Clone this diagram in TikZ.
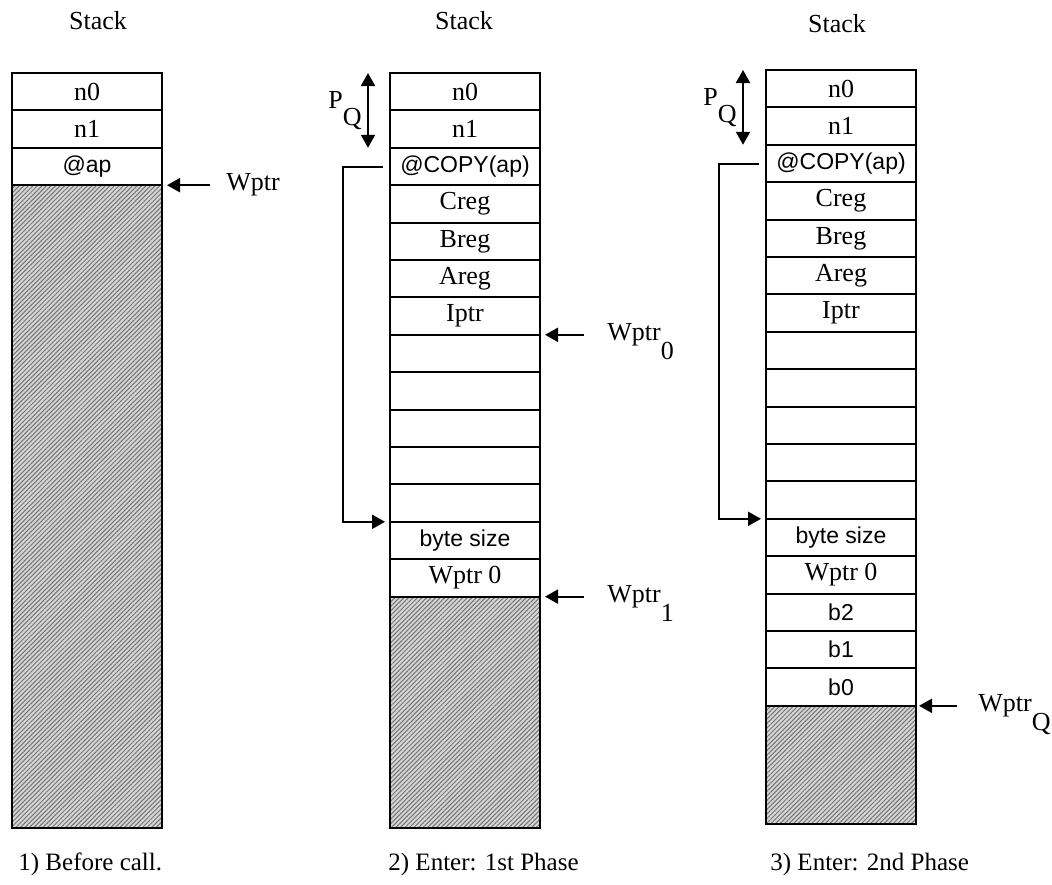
\documentclass[tikz,border=0pt]{standalone}
\usepackage{fontspec}
\setmainfont{Liberation Serif}
\setsansfont{Liberation Sans}
\usetikzlibrary{arrows.meta, positioning, patterns.meta}
\tikzset{
  cell/.style = {rectangle, draw, line width=1pt, minimum width=75pt,
    minimum height=18.7pt, inner sep=0pt, outer sep=0pt, font=\fontsize{13}{15}\selectfont},
  scell/.style = {cell, font=\sffamily\fontsize{11.5}{14}\selectfont},
  freecell/.style = {cell, preaction={fill=black!16},
    pattern={Lines[angle=45, distance=1.6pt, line width=0.5pt]}, pattern color=black!55},
  lbl/.style = {inner sep=0pt, font=\fontsize{13}{15}\selectfont},
  caption/.style = {inner sep=0pt, anchor=base west, font=\fontsize{12.5}{15}\selectfont},
  ptr/.style = {line width=1pt, -{Triangle[length=6.5pt,width=7pt]}},
  dptr/.style = {line width=1pt, {Triangle[length=6.5pt,width=7pt]}-{Triangle[length=6.5pt,width=7pt]}},
}

\begin{document}
\begin{tikzpicture}[x=0.5pt, y=-0.5pt]
  \useasboundingbox (0,0) rectangle (1052,884);

  % 1) Before call
  \node[lbl] (t1) at (98,21) {Stack};
  \node[cell, anchor=north] (a0) at (87,73) {n0};
  \node[cell, below=0pt of a0] (a1) {n1};
  \node[scell, below=0pt of a1] (a2) {@ap};
  \node[freecell, below=0pt of a2, minimum height=321.4pt] (a3) {};
  \node[lbl, right=32pt of a2.south east] (wp1) {Wptr};
  \draw[ptr, shorten <=8pt, shorten >=2.5pt] (wp1.west) -- (a2.south east);
  \node[caption] (cap1) at ([xshift=3pt, yshift=-21pt]a3.south west) {1) Before call.};

  % 2) Enter: 1st Phase
  \node[lbl] (t2) at (464,21) {Stack};
  \node[cell, anchor=north] (b0) at (465,73) {n0};
  \node[cell, below=0pt of b0] (b1) {n1};
  \node[scell, below=0pt of b1] (b2) {@COPY(ap)};
  \node[cell, below=0pt of b2] (b3) {Creg};
  \node[cell, below=0pt of b3] (b4) {Breg};
  \node[cell, below=0pt of b4] (b5) {Areg};
  \node[cell, below=0pt of b5] (b6) {Iptr};
  \node[cell, below=0pt of b6] (b7) {};
  \node[cell, below=0pt of b7] (b8) {};
  \node[cell, below=0pt of b8] (b9) {};
  \node[cell, below=0pt of b9] (b10) {};
  \node[cell, below=0pt of b10] (b11) {};
  \node[scell, below=0pt of b11] (b12) {byte size};
  \node[cell, below=0pt of b12] (b13) {Wptr 0};
  \node[freecell, below=0pt of b13, minimum height=115.7pt] (b14) {};

  \node[lbl, anchor=west] (pq2) at ([xshift=-31pt, yshift=-13.25pt]b0.north west) {P\smash{\raisebox{-8.5pt}{Q}}};
  \draw[dptr] ([xshift=-11pt]b0.north west) -- ([xshift=-11pt]b1.south west);
  \draw[ptr, line cap=rect, shorten >=2.5pt] ([xshift=-4pt]b2.west) -- ++(-19.5pt,0) |- (b12.north west);

  \node[lbl, right=33.5pt of b6.south east] (wp20) {Wptr\smash{\raisebox{-9.5pt}{0}}};
  \draw[ptr, shorten <=11.5pt, shorten >=2.5pt] (wp20.west) -- (b6.south east);
  \node[lbl, right=33.5pt of b13.south east] (wp21) {Wptr\smash{\raisebox{-9.5pt}{1}}};
  \draw[ptr, shorten <=11.5pt, shorten >=2.5pt] (wp21.west) -- (b13.south east);
  \node[caption] (cap2) at ([xshift=-1pt, yshift=-21pt]b14.south west) {2) Enter: 1st Phase};

  % 3) Enter: 2nd Phase
  \node[lbl] (t3) at (837,24) {Stack};
  \node[cell, anchor=north] (c0) at (841,70) {n0};
  \node[cell, below=0pt of c0] (c1) {n1};
  \node[scell, below=0pt of c1] (c2) {@COPY(ap)};
  \node[cell, below=0pt of c2] (c3) {Creg};
  \node[cell, below=0pt of c3] (c4) {Breg};
  \node[cell, below=0pt of c4] (c5) {Areg};
  \node[cell, below=0pt of c5] (c6) {Iptr};
  \node[cell, below=0pt of c6] (c7) {};
  \node[cell, below=0pt of c7] (c8) {};
  \node[cell, below=0pt of c8] (c9) {};
  \node[cell, below=0pt of c9] (c10) {};
  \node[cell, below=0pt of c10] (c11) {};
  \node[scell, below=0pt of c11] (c12) {byte size};
  \node[cell, below=0pt of c12] (c13) {Wptr 0};
  \node[scell, below=0pt of c13] (c14) {b2};
  \node[scell, below=0pt of c14] (c15) {b1};
  \node[scell, below=0pt of c15] (c16) {b0};
  \node[freecell, below=0pt of c16, minimum height=59.1pt] (c17) {};

  \node[lbl, anchor=west] (pq3) at ([xshift=-31.5pt, yshift=-13.25pt]c0.north west) {P\smash{\raisebox{-8.5pt}{Q}}};
  \draw[dptr] ([xshift=-11.5pt]c0.north west) -- ([xshift=-11.5pt]c1.south west);
  \draw[ptr, line cap=rect, shorten >=2.5pt] ([xshift=-4pt]c2.west) -- ++(-19.5pt,0) |- (c12.north west);

  \node[lbl, right=31pt of c16.south east] (wp3) {Wptr\smash{\raisebox{-9.5pt}{Q}}};
  \draw[ptr, shorten <=10.5pt, shorten >=1.5pt] (wp3.west) -- (c16.south east);
  \node[caption] (cap3) at ([xshift=2pt, yshift=-23pt]c17.south west) {3) Enter: 2nd Phase};

\end{tikzpicture}
\end{document}
